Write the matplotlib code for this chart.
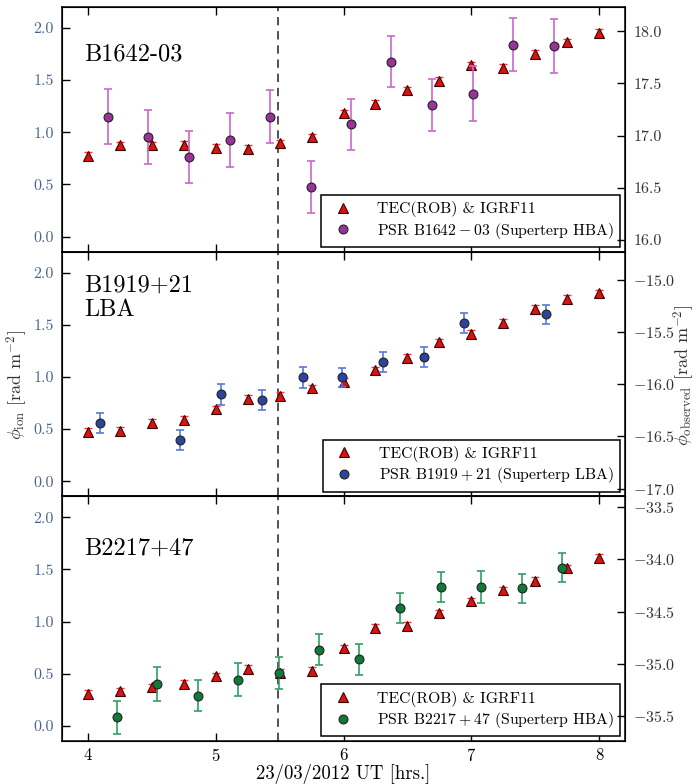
import matplotlib
matplotlib.use("Agg")
import matplotlib.pyplot as plt

plt.rcParams['font.family'] = 'serif'
plt.rcParams['font.serif'] = ['cmr10']
plt.rcParams['mathtext.fontset'] = 'cm'
plt.rcParams['axes.formatter.use_mathtext'] = True
plt.rcParams['axes.unicode_minus'] = True

# ---------------- data ----------------
tec_x = [4.0, 4.25, 4.5, 4.75, 5.0, 5.25, 5.5, 5.75, 6.0, 6.25, 6.5, 6.75, 7.0, 7.25, 7.5, 7.75, 8.0]
tec_err = 0.035

tec1 = [0.775, 0.875, 0.875, 0.88, 0.85, 0.843, 0.895, 0.95, 1.18, 1.27, 1.40, 1.49, 1.64, 1.62, 1.75, 1.86, 1.955]
psr1_x = [4.16, 4.473, 4.796, 5.112, 5.423, 5.747, 6.057, 6.37, 6.694, 7.01, 7.324, 7.645]
psr1_y = [1.15, 0.955, 0.76, 0.927, 1.15, 0.473, 1.077, 1.677, 1.262, 1.37, 1.84, 1.827]
psr1_err = [0.26, 0.262, 0.25, 0.256, 0.25, 0.25, 0.245, 0.246, 0.25, 0.26, 0.257, 0.26]

tec2 = [0.475, 0.484, 0.56, 0.59, 0.69, 0.79, 0.82, 0.89, 0.95, 1.063, 1.18, 1.33, 1.41, 1.52, 1.655, 1.75, 1.80]
psr2_x = [4.094, 4.726, 5.044, 5.36, 5.68, 5.99, 6.305, 6.628, 6.94, 7.58]
psr2_y = [0.557, 0.396, 0.832, 0.78, 0.997, 0.994, 1.14, 1.19, 1.52, 1.60]
psr2_err = [0.098, 0.098, 0.1, 0.095, 0.1, 0.095, 0.095, 0.1, 0.095, 0.09]

tec3 = [0.306, 0.33, 0.37, 0.40, 0.475, 0.545, 0.506, 0.53, 0.742, 0.94, 0.96, 1.08, 1.194, 1.30, 1.39, 1.51, 1.61]
psr3_x = [4.227, 4.543, 4.86, 5.177, 5.493, 5.81, 6.125, 6.44, 6.76, 7.076, 7.392, 7.708]
psr3_y = [0.083, 0.40, 0.29, 0.443, 0.506, 0.73, 0.637, 1.13, 1.33, 1.33, 1.32, 1.516]
psr3_err = [0.16, 0.16, 0.15, 0.155, 0.153, 0.148, 0.145, 0.148, 0.145, 0.153, 0.14, 0.14]

names = ['B1642-03', 'B1919+21\nLBA', 'B2217+47']
psr_labels = [r'PSR $\mathrm{B1642-03}$ (Superterp HBA)',
              r'PSR $\mathrm{B1919+21}$ (Superterp LBA)',
              r'PSR $\mathrm{B2217+47}$ (Superterp HBA)']
tec_label = 'TEC(ROB) & IGRF11'
x_ticks = [4, 5, 6, 7, 8]
left_ticks = [0.0, 0.5, 1.0, 1.5, 2.0]
right_ticks = [[16.0, 16.5, 17.0, 17.5, 18.0],
               [-17.0, -16.5, -16.0, -15.5, -15.0],
               [-35.5, -35.0, -34.5, -34.0, -33.5]]
right_offsets = [16.032, -16.93, -35.596]
t_vline = 5.49

# ---------------- style ----------------
psr_face = ['#993399', '#2b44a0', '#127a38']
psr_ecol = ['#cc66cc', '#5a78d8', '#2ea062']
name_y = [0.85, 0.905, 0.83]
left_col = '#4a6490'
right_col = '#333333'

fig = plt.figure(figsize=(6.96, 7.84), dpi=100)
gs = fig.add_gridspec(3, 1, left=62/696, right=625/696, top=1-7/784, bottom=1-741/784, hspace=0)

tecs = [tec1, tec2, tec3]
psrx = [psr1_x, psr2_x, psr3_x]
psry = [psr1_y, psr2_y, psr3_y]
psre = [psr1_err, psr2_err, psr3_err]

ylim = (-0.145, 2.2)
for i in range(3):
    ax = fig.add_subplot(gs[i])
    ax.set_xlim(3.8, 8.2)
    ax.set_ylim(*ylim)
    ax.axvline(t_vline, color='#333333', ls=(0, (5, 3.5)), lw=1.2, zorder=1)
    ax.errorbar(tec_x, tecs[i], yerr=tec_err, fmt='none', ecolor='#ff3030',
                elinewidth=1.0, capsize=3, capthick=1.0, zorder=2)
    ax.plot(tec_x, tecs[i], ls='none', marker='^', ms=6.8, mfc='#dd1111',
            mec='#3a0000', mew=0.8, label=tec_label, zorder=3)
    ax.errorbar(psrx[i], psry[i], yerr=psre[i], fmt='none', ecolor=psr_ecol[i],
                elinewidth=1.2, capsize=3.2, capthick=1.2, zorder=4)
    ax.plot(psrx[i], psry[i], ls='none', marker='o', ms=6.4, mfc=psr_face[i],
            mec='#222222', mew=0.8, label=psr_labels[i], zorder=5)
    ax.text(0.04, name_y[i], names[i], transform=ax.transAxes, fontsize=17.5,
            va='top', ha='left', linespacing=1.1)
    leg = ax.legend(loc='lower right', fontsize=11.3, frameon=True, fancybox=False,
                    edgecolor='black', framealpha=1, borderaxespad=0.3,
                    handletextpad=1.2, borderpad=0.4, labelspacing=0.22)
    leg.get_frame().set_linewidth(1.1)

    ax.set_xticks(x_ticks)
    ax.set_yticks(left_ticks)
    ax.yaxis.set_major_formatter(matplotlib.ticker.FormatStrFormatter('%.1f'))
    ax.tick_params(axis='both', direction='in', length=6, width=1.0,
                   top=True, bottom=True, left=True, right=False)
    ax.tick_params(axis='y', labelsize=11.5, labelcolor=left_col, pad=6)
    ax.tick_params(axis='x', labelsize=12, pad=4)
    if i < 2:
        ax.tick_params(axis='x', labelbottom=False)
    for s in ax.spines.values():
        s.set_linewidth(1.1)

    ax2 = ax.twinx()
    ax2.set_ylim(ylim[0] + right_offsets[i], ylim[1] + right_offsets[i])
    ax2.set_yticks(right_ticks[i])
    ax2.yaxis.set_major_formatter(matplotlib.ticker.FuncFormatter(
        lambda v, p: ('$-$' if v < 0 else '') + '%.1f' % abs(v)))
    ax2.tick_params(axis='y', direction='in', length=6, width=1.0,
                    labelsize=11.5, labelcolor=right_col, pad=6)

fig.text(17/696, 1 - 385/784, r'$\phi_{\rm ion}$ [rad m$^{-2}$]', fontsize=13,
         color='#333333', rotation=90, ha='center', va='center')
fig.text(684/696, 1 - 375/784, r'$\phi_{\rm observed}$ [rad m$^{-2}$]', fontsize=13,
         color='#333333', rotation=90, ha='center', va='center')
fig.text(343/696, 1 - 774/784, '23/03/2012 UT [hrs.]', fontsize=13.5,
         ha='center', va='center')

fig.savefig('out.png', dpi=100)
